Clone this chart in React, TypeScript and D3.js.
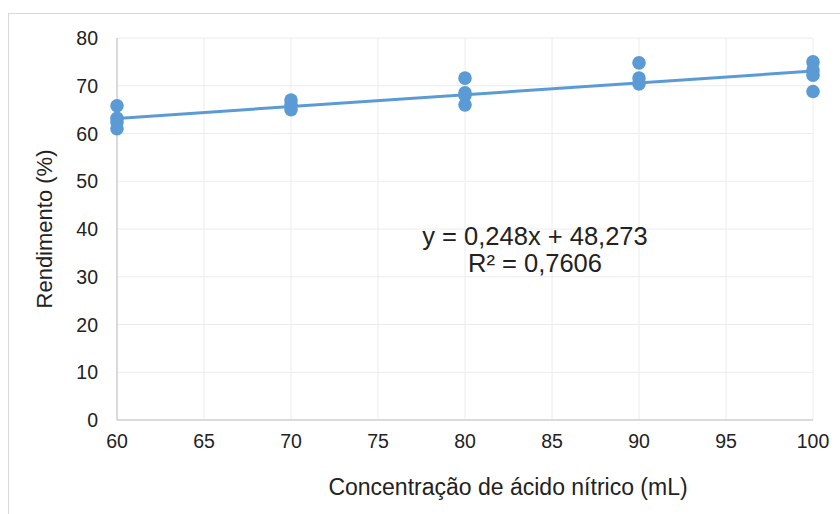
import React from "react";
import * as d3 from "d3";

const xValues = [60, 60, 60, 60, 70, 70, 70, 80, 80, 80, 80, 90, 90, 90, 100, 100, 100, 100];
const yValues = [65.8, 63.2, 62.4, 61, 67, 66, 65, 71.6, 68.5, 68, 66, 74.8, 71.6, 70.4, 75, 73.3, 72.2, 68.8];
const xTicks = [60, 65, 70, 75, 80, 85, 90, 95, 100];
const yTicks = [0, 10, 20, 30, 40, 50, 60, 70, 80];
const slope = 0.248;
const intercept = 48.273;
const eqLine1 = "y = 0,248x + 48,273";
const eqLine2 = "R² = 0,7606";

export default function App() {
  const W = 840, H = 514;
  const x = d3.scaleLinear().domain([60, 100]).range([117, 813]);
  const y = d3.scaleLinear().domain([0, 80]).range([420, 38]);
  const font = "'Liberation Sans', Arial, sans-serif";
  const line = d3.line<number>().x(d => x(d)).y(d => y(slope * d + intercept));
  return (
    <svg width={W} height={H} style={{ position: "absolute", left: 0, top: 0 }}>
      <rect x={0} y={0} width={W} height={H} fill="#fff" />
      <rect x={8.5} y={13.5} width={850} height={520} fill="none" stroke="#d9d9d9" />
      {xTicks.map(t => (
        <line key={"gx" + t} x1={x(t)} x2={x(t)} y1={y(80)} y2={y(0)} stroke="#ececec" />
      ))}
      {yTicks.map(t => (
        <line key={"gy" + t} x1={x(60)} x2={x(100)} y1={y(t)} y2={y(t)} stroke="#ececec" />
      ))}
      <line x1={x(60)} x2={x(60)} y1={y(80)} y2={y(0)} stroke="#bfbfbf" />
      <line x1={x(60)} x2={x(100)} y1={y(0)} y2={y(0)} stroke="#bfbfbf" />
      {yTicks.map(t => (
        <text key={"ty" + t} x={98} y={y(t) + 7} textAnchor="end" fontFamily={font} fontSize={19.5} fill="#222">{t}</text>
      ))}
      {xTicks.map(t => (
        <text key={"tx" + t} x={x(t)} y={448} textAnchor="middle" fontFamily={font} fontSize={19.5} fill="#222">{t}</text>
      ))}
      <text x={508} y={495} textAnchor="middle" fontFamily={font} fontSize={23} fill="#222">Concentração de ácido nítrico (mL)</text>
      <text transform={`translate(52,229) rotate(-90)`} textAnchor="middle" fontFamily={font} fontSize={22} fill="#222">Rendimento (%)</text>
      {xValues.map((xv, i) => (
        <circle key={"p" + i} cx={x(xv)} cy={y(yValues[i])} r={6.8} fill="#5b9bd5" />
      ))}
      <path d={line([60, 100]) || ""} fill="none" stroke="#5b9bd5" strokeWidth={3} />
      <text x={535} y={245} textAnchor="middle" fontFamily={font} fontSize={25.5} fill="#222">{eqLine1}</text>
      <text x={535} y={272} textAnchor="middle" fontFamily={font} fontSize={25.5} fill="#222">{eqLine2}</text>
    </svg>
  );
}
